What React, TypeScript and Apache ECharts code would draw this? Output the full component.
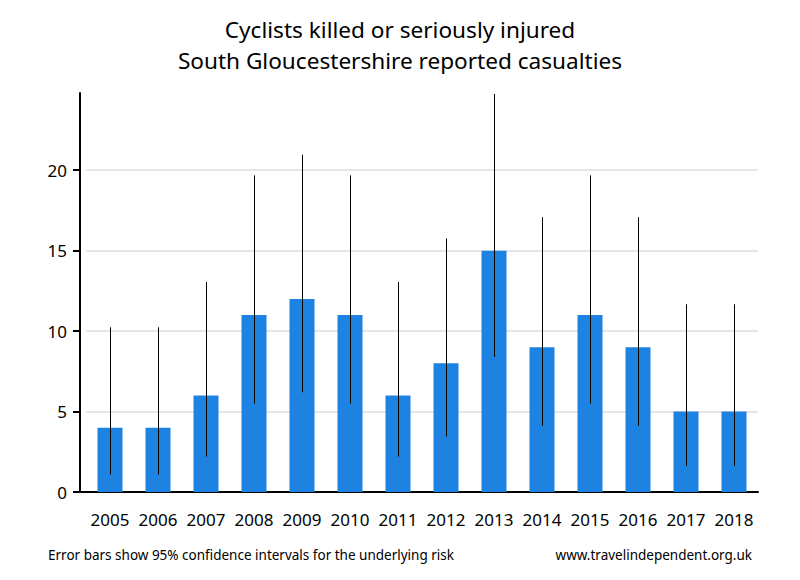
import React, { useEffect, useRef } from "react";
import * as echarts from "echarts";

const years = ["2005", "2006", "2007", "2008", "2009", "2010", "2011", "2012", "2013", "2014", "2015", "2016", "2017", "2018"];
const casualties = [4, 4, 6, 11, 12, 11, 6, 8, 15, 9, 11, 9, 5, 5];
const lowerCI = [1.09, 1.09, 2.2, 5.49, 6.2, 5.49, 2.2, 3.45, 8.4, 4.12, 5.49, 4.12, 1.62, 1.62];
const upperCI = [10.24, 10.24, 13.06, 19.68, 20.96, 19.68, 13.06, 15.76, 24.74, 17.08, 19.68, 17.08, 11.67, 11.67];
const yTicks = [0, 5, 10, 15, 20];

const FONT = "Noto Sans";

export default function App() {
  const ref = useRef<HTMLDivElement>(null);
  useEffect(() => {
    if (!ref.current) return;
    const chart = echarts.init(ref.current, null, { renderer: "svg" });
    const errData = years.map((_, i) => [i, lowerCI[i], upperCI[i]]);
    chart.setOption({
      animation: false,
      backgroundColor: "#ffffff",
      textStyle: { fontFamily: FONT },
      title: {
        text: "Cyclists killed or seriously injured\nSouth Gloucestershire reported casualties",
        left: "center",
        top: 9,
        textStyle: { fontFamily: FONT, fontSize: 22.6, fontWeight: "normal", color: "#000", lineHeight: 31 },
      },
      grid: { left: 86, right: 42, top: 93, bottom: 88, containLabel: false },
      xAxis: {
        type: "category",
        data: years,
        axisLine: { lineStyle: { color: "#000", width: 2 } },
        axisTick: { show: false },
        axisLabel: { color: "#000", fontSize: 17, fontFamily: FONT, margin: 19, interval: 0 },
      },
      yAxis: {
        type: "value",
        min: 0,
        max: 24.8,
        interval: 5,
        offset: 6,
        axisLine: { show: true, lineStyle: { color: "#000", width: 2 } },
        axisTick: { show: true, length: 7, lineStyle: { color: "#000", width: 2 }, customValues: yTicks },
        axisLabel: { color: "#000", fontSize: 17, fontFamily: FONT, margin: 13, customValues: yTicks },
        splitLine: { show: true, lineStyle: { color: "#e6e6e6", width: 2 } },
      },
      graphic: [
        {
          type: "line",
          shape: { x1: 79, y1: 492, x2: 87, y2: 492 },
          style: { stroke: "#000", lineWidth: 2 },
        },
        {
          type: "text",
          left: 48,
          top: 548,
          style: { text: "Error bars show 95% confidence intervals for the underlying risk", font: `13.5px '${FONT}'`, fill: "#000" },
        },
        {
          type: "text",
          right: 48,
          top: 548,
          style: { text: "www.travelindependent.org.uk", font: `13.5px '${FONT}'`, fill: "#000" },
        },
      ],
      series: [
        {
          type: "bar",
          data: casualties,
          barWidth: 25,
          z: 2,
          itemStyle: { color: "#1e82e2" },
        },
        {
          type: "custom",
          z: 3,
          data: errData,
          renderItem: (params: any, api: any) => {
            const x = api.value(0);
            const lo = api.coord([x, api.value(1)]);
            const hi = api.coord([x, api.value(2)]);
            const px = Math.round(lo[0]) + 0.5;
            return {
              type: "line",
              shape: { x1: px, y1: lo[1], x2: px, y2: hi[1] },
              style: { stroke: "#000", lineWidth: 1 },
            };
          },
        },
      ],
    });
    return () => chart.dispose();
  }, []);
  return <div ref={ref} style={{ width: 800, height: 580, position: "absolute", left: 0, top: 0 }} />;
}
